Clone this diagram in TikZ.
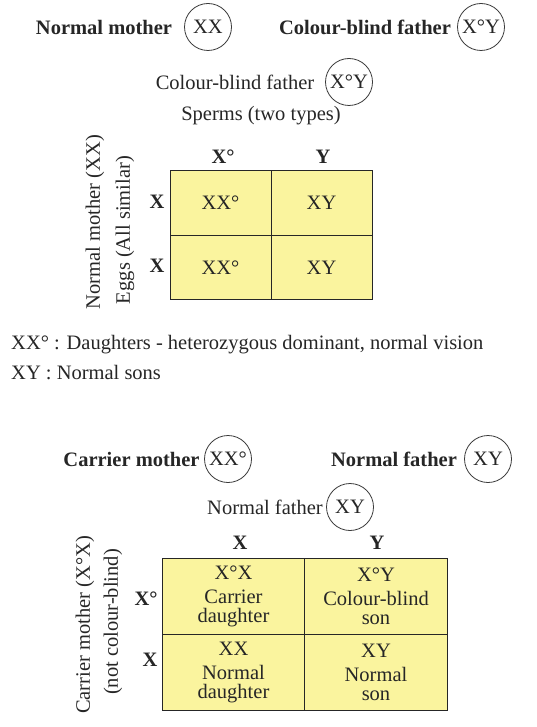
\documentclass[tikz,border=0pt]{standalone}
\usepackage{fontspec}
\setmainfont{Liberation Serif}
\usepackage{xcolor}
\usetikzlibrary{positioning}
\definecolor{PSYellow}{HTML}{FAF49E}
\definecolor{PSInk}{HTML}{262626}
\definecolor{PSRing}{HTML}{3A3A3A}

\begin{document}
\begin{tikzpicture}[
  x=1pt,y=-1pt,
  every node/.style={text=PSInk,font=\fontsize{20.5}{19}\selectfont,inner sep=0pt},
  parent/.style={font=\fontsize{20.5}{19}\selectfont\bfseries},
  plain/.style={},
  gene/.style={circle,draw=PSRing,line width=0.8pt,minimum size=47pt,inner sep=0pt},
  hdr/.style={font=\fontsize{20.5}{19}\selectfont\bfseries},
  side/.style={rotate=90,align=center},
  cellA/.style={draw=PSInk,line width=0.9pt,fill=PSYellow,minimum width=101pt,minimum height=64.5pt,align=center},
  cellB/.style={draw=PSInk,line width=0.9pt,fill=PSYellow,minimum width=142.5pt,minimum height=76pt,align=center},
  legend/.style={anchor=west}
]
\useasboundingbox (0,0) rectangle (537,727);
\fill[white] (0,0) rectangle (537,727);

\node[parent] (mumA) at (104,27) {Normal mother};
\node[gene] (mumAgt) at (208,27) {XX};
\node[parent] (dadA) at (365,27) {Colour-blind father};
\node[gene] (dadAgt) at (481,27) {X°Y};
\node[plain] (spermLbl) at (235,82) {Colour-blind father};
\node[gene] (spermGt) at (349,82) {X°Y};
\node[plain] (spermTypes) at (261,116) {Sperms (two types)};

\node[cellA] (a11) at (220.5,203) {XX°};
\node[cellA] (a12) at (321.5,203) {XY};
\node[cellA] (a21) at (220.5,267.5) {XX°};
\node[cellA] (a22) at (321.5,267.5) {XY};
\node[hdr] (aColXo) at (223,157) {X°};
\node[hdr] (aColY) at (323,157) {Y};
\node[hdr] (aRowX1) at (157,202) {X};
\node[hdr] (aRowX2) at (157,266) {X};
\node[side] (aMum) at (95,222) {Normal mother (XX)};
\node[side] (aEggs) at (125,230) {Eggs (All similar)};

\node[legend] (keyA) at (11,345) {XX° : Daughters - heterozygous dominant, normal vision};
\node[legend] (keyB) at (11,373) {XY : Normal sons};

\node[parent] (mumB) at (131.5,459) {Carrier mother};
\node[gene] (mumBgt) at (228,459) {XX°};
\node[parent] (dadB) at (394,459) {Normal father};
\node[gene] (dadBgt) at (488,459) {XY};
\node[plain] (spermBLbl) at (265,507) {Normal father};
\node[gene] (spermBGt) at (350,507) {XY};

\node[cellB] (b11) at (233.5,596.5) {X°X\\[5pt]Carrier\\daughter};
\node[cellB] (b12) at (376,596.5) {X°Y\\[5pt]Colour-blind\\son};
\node[cellB] (b21) at (233.5,672.5) {XX\\[5pt]Normal\\daughter};
\node[cellB] (b22) at (376,672.5) {XY\\[5pt]Normal\\son};
\node[hdr] (bColX) at (240,543) {X};
\node[hdr] (bColY) at (377,543) {Y};
\node[hdr] (bRowXo) at (146,599) {X°};
\node[hdr] (bRowX) at (150,660) {X};
\node[side] (bMum) at (85,625) {Carrier mother (X°X)};
\node[side] (bNot) at (113,622) {(not colour-blind)};
\end{tikzpicture}
\end{document}
